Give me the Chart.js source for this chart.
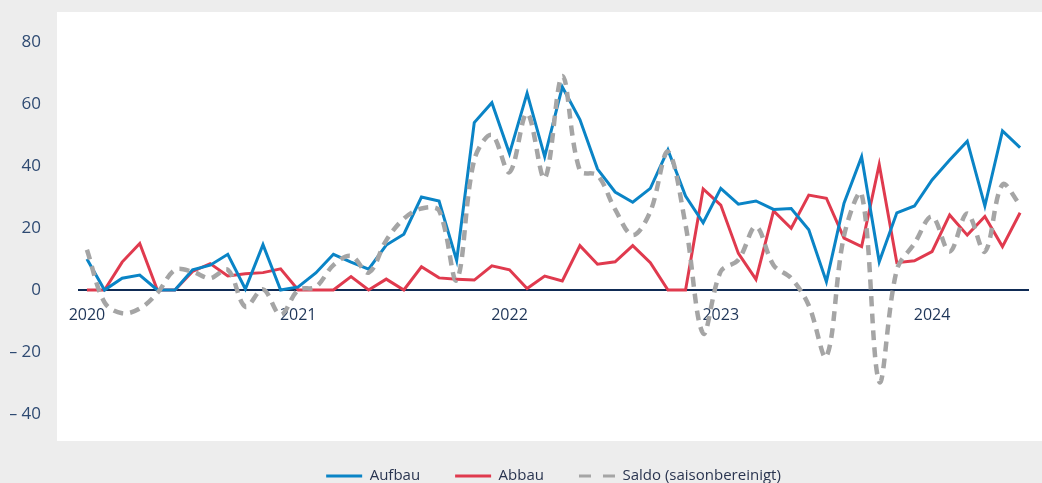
<!DOCTYPE html>
<html>
<head>
<meta charset="utf-8">
<script src="https://cdn.jsdelivr.net/npm/chart.js@4/dist/chart.umd.min.js"></script>
<style>
  html, body { margin: 0; padding: 0; background: #ededed; }
  #wrap { width: 1042px; height: 483px; }
</style>
</head>
<body>
<div id="wrap"><canvas id="chart" width="1042" height="483"></canvas></div>
<script>
// Monthly values, January 2020 to June 2024
const yearLabels = ['2020', '2021', '2022', '2023', '2024'];

const aufbau = [10, 0, 3.8, 4.8, 0, 0, 6.5, 8, 11.5, 0.3,
  14.6, 0, 1, 5.5, 11.5, 9, 6.7, 14.5, 18, 30,
  28.7, 9.5, 54, 60.4, 44, 63.5, 43, 65.5, 55, 39,
  31.6, 28.3, 32.8, 45.2, 30.3, 21.7, 32.8, 27.7, 28.7, 26,
  26.3, 19.4, 2.7, 28, 43, 9.1, 24.9, 27.1, 35.5, 41.9,
  48, 27.1, 51.3, 45.9];

const abbau = [0, 0, 9, 15, 0, 0, 6, 8.5, 4.5, 5.2,
  5.6, 6.8, 0, 0, 0, 4.3, 0, 3.5, 0, 7.5,
  3.9, 3.5, 3.2, 7.8, 6.5, 0.5, 4.5, 2.9, 14.3, 8.3,
  9.1, 14.3, 8.8, 0, 0, 32.6, 27.4, 11.8, 3.4, 25.5,
  19.9, 30.6, 29.6, 16.7, 14, 40.5, 8.8, 9.4, 12.4, 24.2,
  17.7, 23.7, 14, 24.9];

const saldo = [13, -4, -7.5, -6, -1, 6.5, 5.9, 3.8, 6.5, -5.4,
  0.2, -8, 0, 1, 8, 11, 5.6, 16, 23, 26.3,
  25.6, 3.2, 42, 50, 38, 57, 36, 69, 38.5, 37,
  26, 17.7, 25.3, 44.6, 21, -14, 6, 9.7, 20.4, 8,
  3.8, -5, -21.5, 17.5, 31, -29.6, 6.5, 15, 23.7, 12.4,
  24.7, 12.4, 34, 27.4];

const yTickValues = [-40, -20, 0, 20, 40, 60, 80];
const yTickLabels = ['\u2013 40', '\u2013 20', '0', '20', '40', '60', '80'];

const seriesNames = ['Aufbau', 'Abbau', 'Saldo (saisonbereinigt)'];

// month index along the x axis
const toPoints = arr => arr.map((v, i) => ({ x: i, y: v }));
const yearTickPositions = yearLabels.map((_, k) => k * 12);

const FONT = "'Open Sans', 'Noto Sans', sans-serif";
const BLUE = '#0a84c6';
const RED = '#e03a4e';
const GREY = '#a5a5a5';

// grey page with a white panel behind the plot
const panelPlugin = {
  id: 'panel',
  beforeDraw(chart) {
    const { ctx, width, height } = chart;
    ctx.save();
    ctx.fillStyle = '#ededed';
    ctx.fillRect(0, 0, width, height);
    ctx.fillStyle = '#ffffff';
    ctx.fillRect(57, 12, width - 57, 429);
    ctx.restore();
  }
};

new Chart(document.getElementById('chart'), {
  type: 'line',
  data: {
    datasets: [
      {
        label: seriesNames[0],
        data: toPoints(aufbau),
        borderColor: BLUE,
        backgroundColor: BLUE,
        borderWidth: 3,
        pointRadius: 0,
        tension: 0,
        order: 1
      },
      {
        label: seriesNames[1],
        data: toPoints(abbau),
        borderColor: RED,
        backgroundColor: RED,
        borderWidth: 3,
        pointRadius: 0,
        tension: 0,
        order: 2
      },
      {
        label: seriesNames[2],
        data: toPoints(saldo),
        borderColor: GREY,
        backgroundColor: GREY,
        borderWidth: 4.5,
        borderDash: [10, 7],
        pointRadius: 0,
        tension: 0.35,
        order: 0
      }
    ]
  },
  options: {
    responsive: false,
    devicePixelRatio: 1,
    animation: false,
    layout: { padding: { left: 10, right: 14, top: 42, bottom: -10.5 } },
    scales: {
      x: {
        type: 'linear',
        min: -0.45,
        max: 53.45,
        position: { y: 0 },
        afterBuildTicks: s => { s.ticks = yearTickPositions.map(v => ({ value: v })); },
        grid: { display: false, drawTicks: false },
        border: { display: true, color: '#0f2b55', width: 2 },
        ticks: {
          padding: 16,
          maxRotation: 0,
          autoSkip: false,
          color: '#1e3558',
          font: { family: FONT, size: 16 },
          callback: (v, i) => yearLabels[i]
        }
      },
      y: {
        min: -46.3,
        max: 80,
        afterBuildTicks: s => { s.ticks = yTickValues.map(v => ({ value: v })); },
        afterFit: s => {
          s.width = 69;
          s.paddingTop = 0;
          s.paddingBottom = 0;
        },
        grid: { display: false, drawTicks: false },
        border: { display: false },
        ticks: {
          padding: 38,
          color: '#2e4a72',
          font: { family: FONT, size: 17 },
          callback: (v, i) => yTickLabels[i]
        }
      }
    },
    plugins: {
      tooltip: { enabled: false },
      legend: {
        position: 'bottom',
        align: 'center',
        fullSize: false,
        labels: {
          usePointStyle: true,
          pointStyle: 'line',
          pointStyleWidth: 36,
          padding: 35,
          color: '#2a3550',
          font: { family: FONT, size: 15 },
          sort: (a, b) => a.datasetIndex - b.datasetIndex,
          generateLabels(chart) {
            const items = Chart.defaults.plugins.legend.labels.generateLabels(chart);
            items.forEach(it => {
              it.lineWidth = 3;
              it.pointStyle = 'line';
              it.lineDash = chart.data.datasets[it.datasetIndex].borderDash ? [12, 12] : [];
            });
            return items;
          }
        }
      }
    }
  },
  plugins: [panelPlugin]
});
</script>
</body>
</html>
